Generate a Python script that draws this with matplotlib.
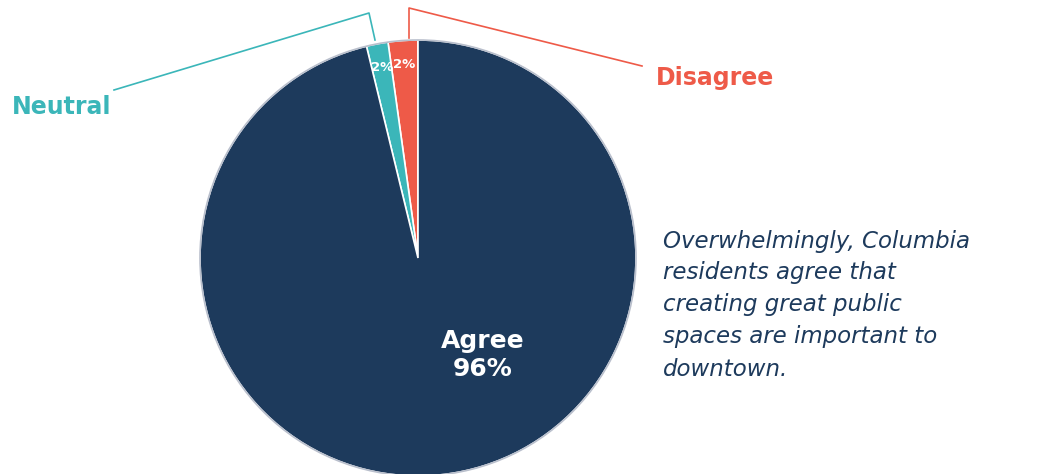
import matplotlib.pyplot as plt
from matplotlib.patches import Circle

# ---- data ----
labels = ["Disagree", "Neutral", "Agree"]
values = [2.2, 1.6, 96.2]
colors = ["#ee5a48", "#3bb6b9", "#1d3a5c"]
note = ("Overwhelmingly, Columbia\nresidents agree that\ncreating great public\n"
        "spaces are important to\ndowntown.")

W, H = 1044, 474


def py(y):
    """pixel row (top-down) -> data y (bottom-up)"""
    return H - y


fig = plt.figure(figsize=(W / 100, H / 100), dpi=100)
ax = fig.add_axes([0, 0, 1, 1])

cx, cy, r = 418, py(258), 218
wedges, texts, autotexts = ax.pie(
    values,
    colors=colors,
    startangle=90,
    center=(cx, cy),
    radius=r,
    autopct="%.0f%%",
    pctdistance=0.89,
    wedgeprops=dict(edgecolor="white", linewidth=1.2),
    textprops=dict(color="white", fontweight="bold", fontsize=9.5),
)
ax.add_patch(Circle((cx, cy), r, fill=False, edgecolor="#b9bfcc", lw=1.2))

# big label for the majority slice
agree = autotexts[2]
agree.set_text("%s\n%.0f%%" % (labels[2], values[2]))
agree.set_position((483, py(355)))
agree.set_fontsize(18)
agree.set_linespacing(1.25)

# leader lines + outside labels
ax.plot([375, 369, 114], [py(40), py(13), py(90)], color=colors[1], lw=1.2)
ax.plot([409, 409, 642], [py(38), py(8), py(66)], color=colors[0], lw=1.2)
ax.text(62, py(107), labels[1], color=colors[1], fontsize=17, fontweight="bold",
        ha="center", va="center")
ax.text(715, py(78), labels[0], color=colors[0], fontsize=17, fontweight="bold",
        ha="center", va="center")

ax.text(663, py(305), note, color="#1d3a5c", fontsize=16.5, style="italic",
        ha="left", va="center", linespacing=1.5)

ax.set_xlim(0, W)
ax.set_ylim(0, H)
ax.set_aspect("equal")
ax.axis("off")

fig.savefig("out.png", dpi=100)
